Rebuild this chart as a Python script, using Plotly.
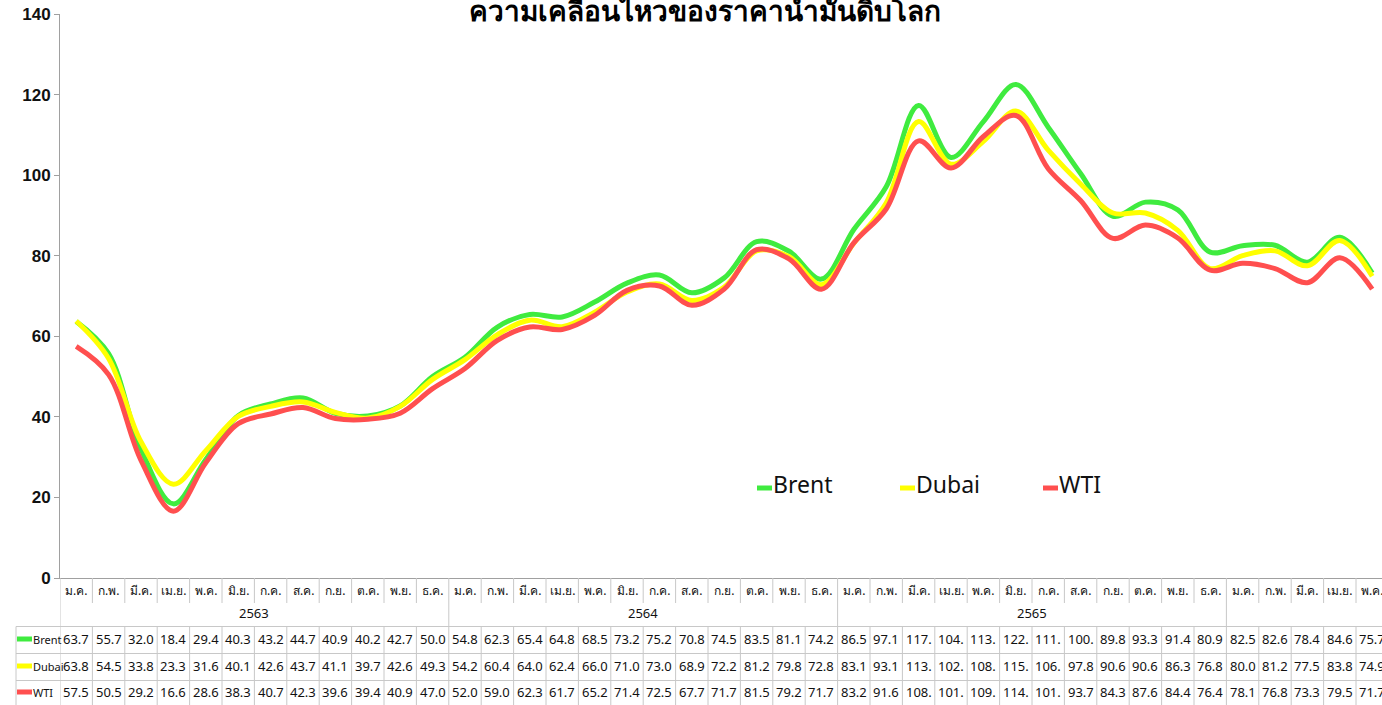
import plotly.graph_objects as go

months = ["ม.ค.", "ก.พ.", "มี.ค.", "เม.ย.", "พ.ค.", "มิ.ย.", "ก.ค.", "ส.ค.", "ก.ย.", "ต.ค.", "พ.ย.", "ธ.ค."]
years = ["2563", "2564", "2565", "2566"]
month_labels = months * 3 + months[:5]

brent = [63.7, 55.7, 32.0, 18.4, 29.4, 40.3, 43.2, 44.7, 40.9, 40.2, 42.7, 50.0,
         54.8, 62.3, 65.4, 64.8, 68.5, 73.2, 75.2, 70.8, 74.5, 83.5, 81.1, 74.2,
         86.5, 97.1, 117.3, 104.4, 113.3, 122.5, 111.9, 100.4, 89.8, 93.3, 91.4, 80.9,
         82.5, 82.6, 78.4, 84.6, 75.7]
dubai = [63.8, 54.5, 33.8, 23.3, 31.6, 40.1, 42.6, 43.7, 41.1, 39.7, 42.6, 49.3,
         54.2, 60.4, 64.0, 62.4, 66.0, 71.0, 73.0, 68.9, 72.2, 81.2, 79.8, 72.8,
         83.1, 93.1, 113.3, 102.7, 108.4, 115.9, 106.2, 97.8, 90.6, 90.6, 86.3, 76.8,
         80.0, 81.2, 77.5, 83.8, 74.9]
wti = [57.5, 50.5, 29.2, 16.6, 28.6, 38.3, 40.7, 42.3, 39.6, 39.4, 40.9, 47.0,
       52.0, 59.0, 62.3, 61.7, 65.2, 71.4, 72.5, 67.7, 71.7, 81.5, 79.2, 71.7,
       83.2, 91.6, 108.5, 101.8, 109.6, 114.8, 101.6, 93.7, 84.3, 87.6, 84.4, 76.4,
       78.1, 76.8, 73.3, 79.5, 71.7]

series = [("Brent", brent, "#3FEB3F"), ("Dubai", dubai, "#FFFF00"), ("WTI", wti, "#FF4F4F")]

W, H = 1382, 705
ML, MT, MR = 60, 14, 0
MB = H - 578
PW = W - ML - MR
PH = H - MT - MB
COLW = 32.4
x_end = -0.5 + PW / COLW


def py(p):
    # page pixel row -> paper y
    return (H - MB - p) / PH


def px(p):
    # page pixel column -> paper x
    return (p - ML) / PW


n = len(brent)
xs = list(range(n))

fig = go.Figure()
for name, vals, col in series:
    fig.add_trace(go.Scatter(x=xs, y=vals, mode="lines", name=name,
                             line=dict(color=col, width=5, shape="spline", smoothing=1.0),
                             showlegend=False))

shapes = []
annotations = []
grid = "#C8C8C8"

# month row separators
for i in range(n + 1):
    xb = i - 0.5
    y_bottom = 626.5 if i % 12 == 0 else 603
    shapes.append(dict(type="line", xref="x", yref="paper", x0=xb, x1=xb,
                       y0=py(578), y1=py(y_bottom), line=dict(color=grid, width=1)))
# data table grid
for i in range(n + 1):
    xb = i - 0.5
    shapes.append(dict(type="line", xref="x", yref="paper", x0=xb, x1=xb,
                       y0=py(626.5), y1=py(716), line=dict(color=grid, width=1)))
shapes.append(dict(type="line", xref="paper", yref="paper", x0=px(16), x1=px(16),
                   y0=py(626.5), y1=py(716), line=dict(color=grid, width=1)))
for yy in [626.5, 653.5, 680.5]:
    shapes.append(dict(type="line", xref="paper", yref="paper", x0=px(16), x1=1.0,
                       y0=py(yy), y1=py(yy), line=dict(color=grid, width=1)))

tfont = "Liberation Sans Narrow, Arial Narrow, Noto Sans, sans-serif"
for i, lab in enumerate(month_labels):
    annotations.append(dict(x=i, y=py(590), xref="x", yref="paper", text=lab, showarrow=False,
                            xanchor="center", yanchor="middle",
                            font=dict(size=12, color="#111", family=tfont)))
for k, yr in enumerate(years):
    start = k * 12
    end = start + 11
    annotations.append(dict(x=(start + end) / 2, y=py(613), xref="x", yref="paper", text=yr,
                            xanchor="center", yanchor="middle",
                            showarrow=False, font=dict(size=13, color="#111", family=tfont)))

row_y = [639, 666, 692]
for r, (name, vals, col) in enumerate(series):
    yy = py(row_y[r])
    shapes.append(dict(type="line", xref="paper", yref="paper", x0=px(17), x1=px(32),
                       y0=yy, y1=yy, line=dict(color=col, width=5)))
    annotations.append(dict(x=px(32), y=yy, xref="paper", yref="paper", text=name,
                            xanchor="left", yanchor="middle", showarrow=False, xshift=-1,
                            font=dict(size=11, color="#111", family=tfont)))
    for i, v in enumerate(vals):
        annotations.append(dict(x=i, y=yy, xref="x", yref="paper", text=f"{v:.1f}"[:4],
                                xanchor="center", yanchor="middle", showarrow=False,
                                font=dict(size=13, color="#111", family=tfont)))

# legend
leg_x = [757, 900, 1043]
for (name, vals, col), lx in zip(series, leg_x):
    shapes.append(dict(type="line", xref="paper", yref="paper", x0=px(lx), x1=px(lx + 15),
                       y0=py(488), y1=py(488), line=dict(color=col, width=5)))
    annotations.append(dict(x=px(lx + 14), y=py(484), xref="paper", yref="paper", text=name,
                            xanchor="left", yanchor="middle", showarrow=False,
                            font=dict(size=23, color="#111", family=tfont)))

# title (partially cut at top)
annotations.append(dict(x=px(705), y=1, xref="paper", yref="paper",
                        text="<b>ความเคลื่อนไหวของราคาน้ำมันดิบโลก</b>",
                        xanchor="center", yanchor="bottom", yshift=-17, showarrow=False,
                        font=dict(size=28, color="#000", family="Noto Sans, sans-serif")))

fig.update_layout(
    width=W, height=H,
    margin=dict(l=ML, r=MR, t=MT, b=MB, autoexpand=False),
    paper_bgcolor="white", plot_bgcolor="white",
    shapes=shapes, annotations=annotations,
    xaxis=dict(range=[-0.5, x_end], showticklabels=False, showgrid=False, zeroline=False,
               showline=True, linecolor="#A0A0A0", ticks="", automargin=False),
    yaxis=dict(range=[0, 140], dtick=20, showgrid=False, zeroline=False, showline=True,
               linecolor="#A0A0A0", ticks="outside", ticklen=5, tickcolor="#A0A0A0",
               automargin=False,
               tickfont=dict(size=17, color="#111", weight="bold",
                             family="Liberation Sans Narrow, Liberation Sans, Arial, sans-serif")),
    showlegend=False,
)

fig.write_html("out.html", config={"displayModeBar": False},
               post_script="document.body.style.margin='0px';document.body.style.overflow='hidden';")
